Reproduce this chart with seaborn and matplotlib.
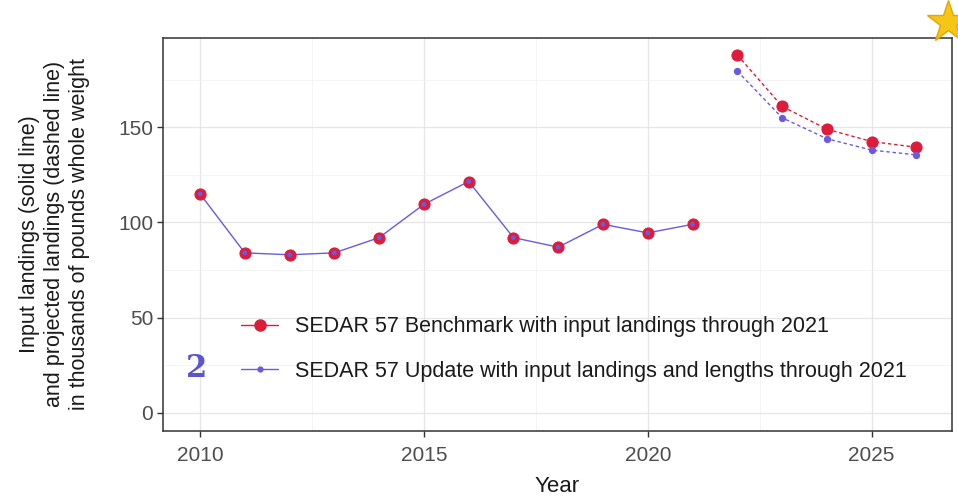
import numpy as np
import pandas as pd
import matplotlib
matplotlib.use("Agg")
import matplotlib.pyplot as plt
import seaborn as sns
from matplotlib.ticker import MultipleLocator

# Datos (miles de libras)
anios_hist = [2010, 2011, 2012, 2013, 2014, 2015, 2016, 2017, 2018, 2019, 2020, 2021]
hist = [115, 84, 83, 84, 92, 109.5, 121.5, 92, 87, 99, 94.5, 99]
anios_proy = [2022, 2023, 2024, 2025, 2026]
proy_benchmark = [188, 161, 149, 142.5, 139.5]
proy_update = [179.5, 155, 144, 138, 135.5]

rojo = "#DC1C3A"
azul = "#6A5AE0"

lbl_bench = "SEDAR 57 Benchmark with input landings through 2021"
lbl_upd = "SEDAR 57 Update with input landings and lengths through 2021"

df_hist = pd.DataFrame({"Year": anios_hist, "Landings": hist})
df_proy = pd.DataFrame({"Year": anios_proy, "Benchmark": proy_benchmark, "Update": proy_update})

sns.set_style("whitegrid")
plt.rcParams["font.family"] = ["Liberation Sans", "DejaVu Sans"]

fig = plt.figure(figsize=(9.58, 4.98), dpi=100)
ax = fig.add_axes([0.170, 0.135, 0.824, 0.789])

# Serie histórica: mismo valor para ambos modelos
sns.lineplot(data=df_hist, x="Year", y="Landings", ax=ax, color=azul, lw=1,
             marker="o", markersize=8, markerfacecolor=rojo, markeredgecolor=rojo,
             legend=False, zorder=3)
sns.scatterplot(data=df_hist, x="Year", y="Landings", ax=ax, color=azul, s=12,
                edgecolor="none", legend=False, zorder=4)

# Proyecciones
sns.lineplot(data=df_proy, x="Year", y="Benchmark", ax=ax, color=rojo, lw=1,
             linestyle=(0, (2.5, 2)), marker="o", markersize=8,
             markerfacecolor=rojo, markeredgecolor=rojo, legend=False, zorder=3)
sns.lineplot(data=df_proy, x="Year", y="Update", ax=ax, color=azul, lw=1,
             linestyle=(0, (2.5, 2)), marker="o", markersize=4.5,
             markerfacecolor=azul, markeredgecolor=azul, legend=False, zorder=3)

ax.set_xlim(2009.17, 2026.8)
ax.set_ylim(-9.5, 197)
ax.xaxis.set_major_locator(MultipleLocator(5))
ax.xaxis.set_minor_locator(MultipleLocator(2.5))
ax.yaxis.set_major_locator(MultipleLocator(50))
ax.yaxis.set_minor_locator(MultipleLocator(25))
ax.grid(which="major", color="#E6E6E6", lw=0.9)
ax.grid(which="minor", color="#F2F2F2", lw=0.6)
ax.set_axisbelow(True)

for s in ax.spines.values():
    s.set_color("#333333")
    s.set_linewidth(1.1)

ax.tick_params(axis="both", which="major", length=4, width=1, color="#333333",
               labelsize=15, labelcolor="#4D4D4D", pad=3, bottom=True, left=True)
ax.tick_params(axis="x", which="major", pad=7)
ax.tick_params(axis="both", which="minor", length=0)

ax.set_xlabel("Year", fontsize=16, color="#1A1A1A", labelpad=8)
ax.set_ylabel("Input landings (solid line)\nand projected landings (dashed line)\nin thousands of pounds whole weight",
              fontsize=15.5, color="#1A1A1A", labelpad=20, linespacing=1.25)

h1 = plt.Line2D([], [], color=rojo, lw=1, marker="o", markersize=8)
h2 = plt.Line2D([], [], color=azul, lw=1, marker="o", markersize=3.5)
ax.legend([h1, h2], [lbl_bench, lbl_upd], loc="lower left", bbox_to_anchor=(0.075, 0.075),
          frameon=False, fontsize=15.5, handlelength=1.7, handletextpad=0.8,
          labelspacing=1.1, labelcolor="#1A1A1A")

# anotaciones de la diapositiva
fig.text(0.205, 0.26, "2", fontsize=22, fontweight="bold", color="#5B55D0",
         family="DejaVu Serif", ha="center", va="center")
fig.lines.append(plt.Line2D([0.99], [0.955], marker="*", markersize=32,
                            color="#F5C518", markeredgecolor="#E0A800",
                            transform=fig.transFigure, figure=fig))

fig.savefig("out.png", dpi=100)
